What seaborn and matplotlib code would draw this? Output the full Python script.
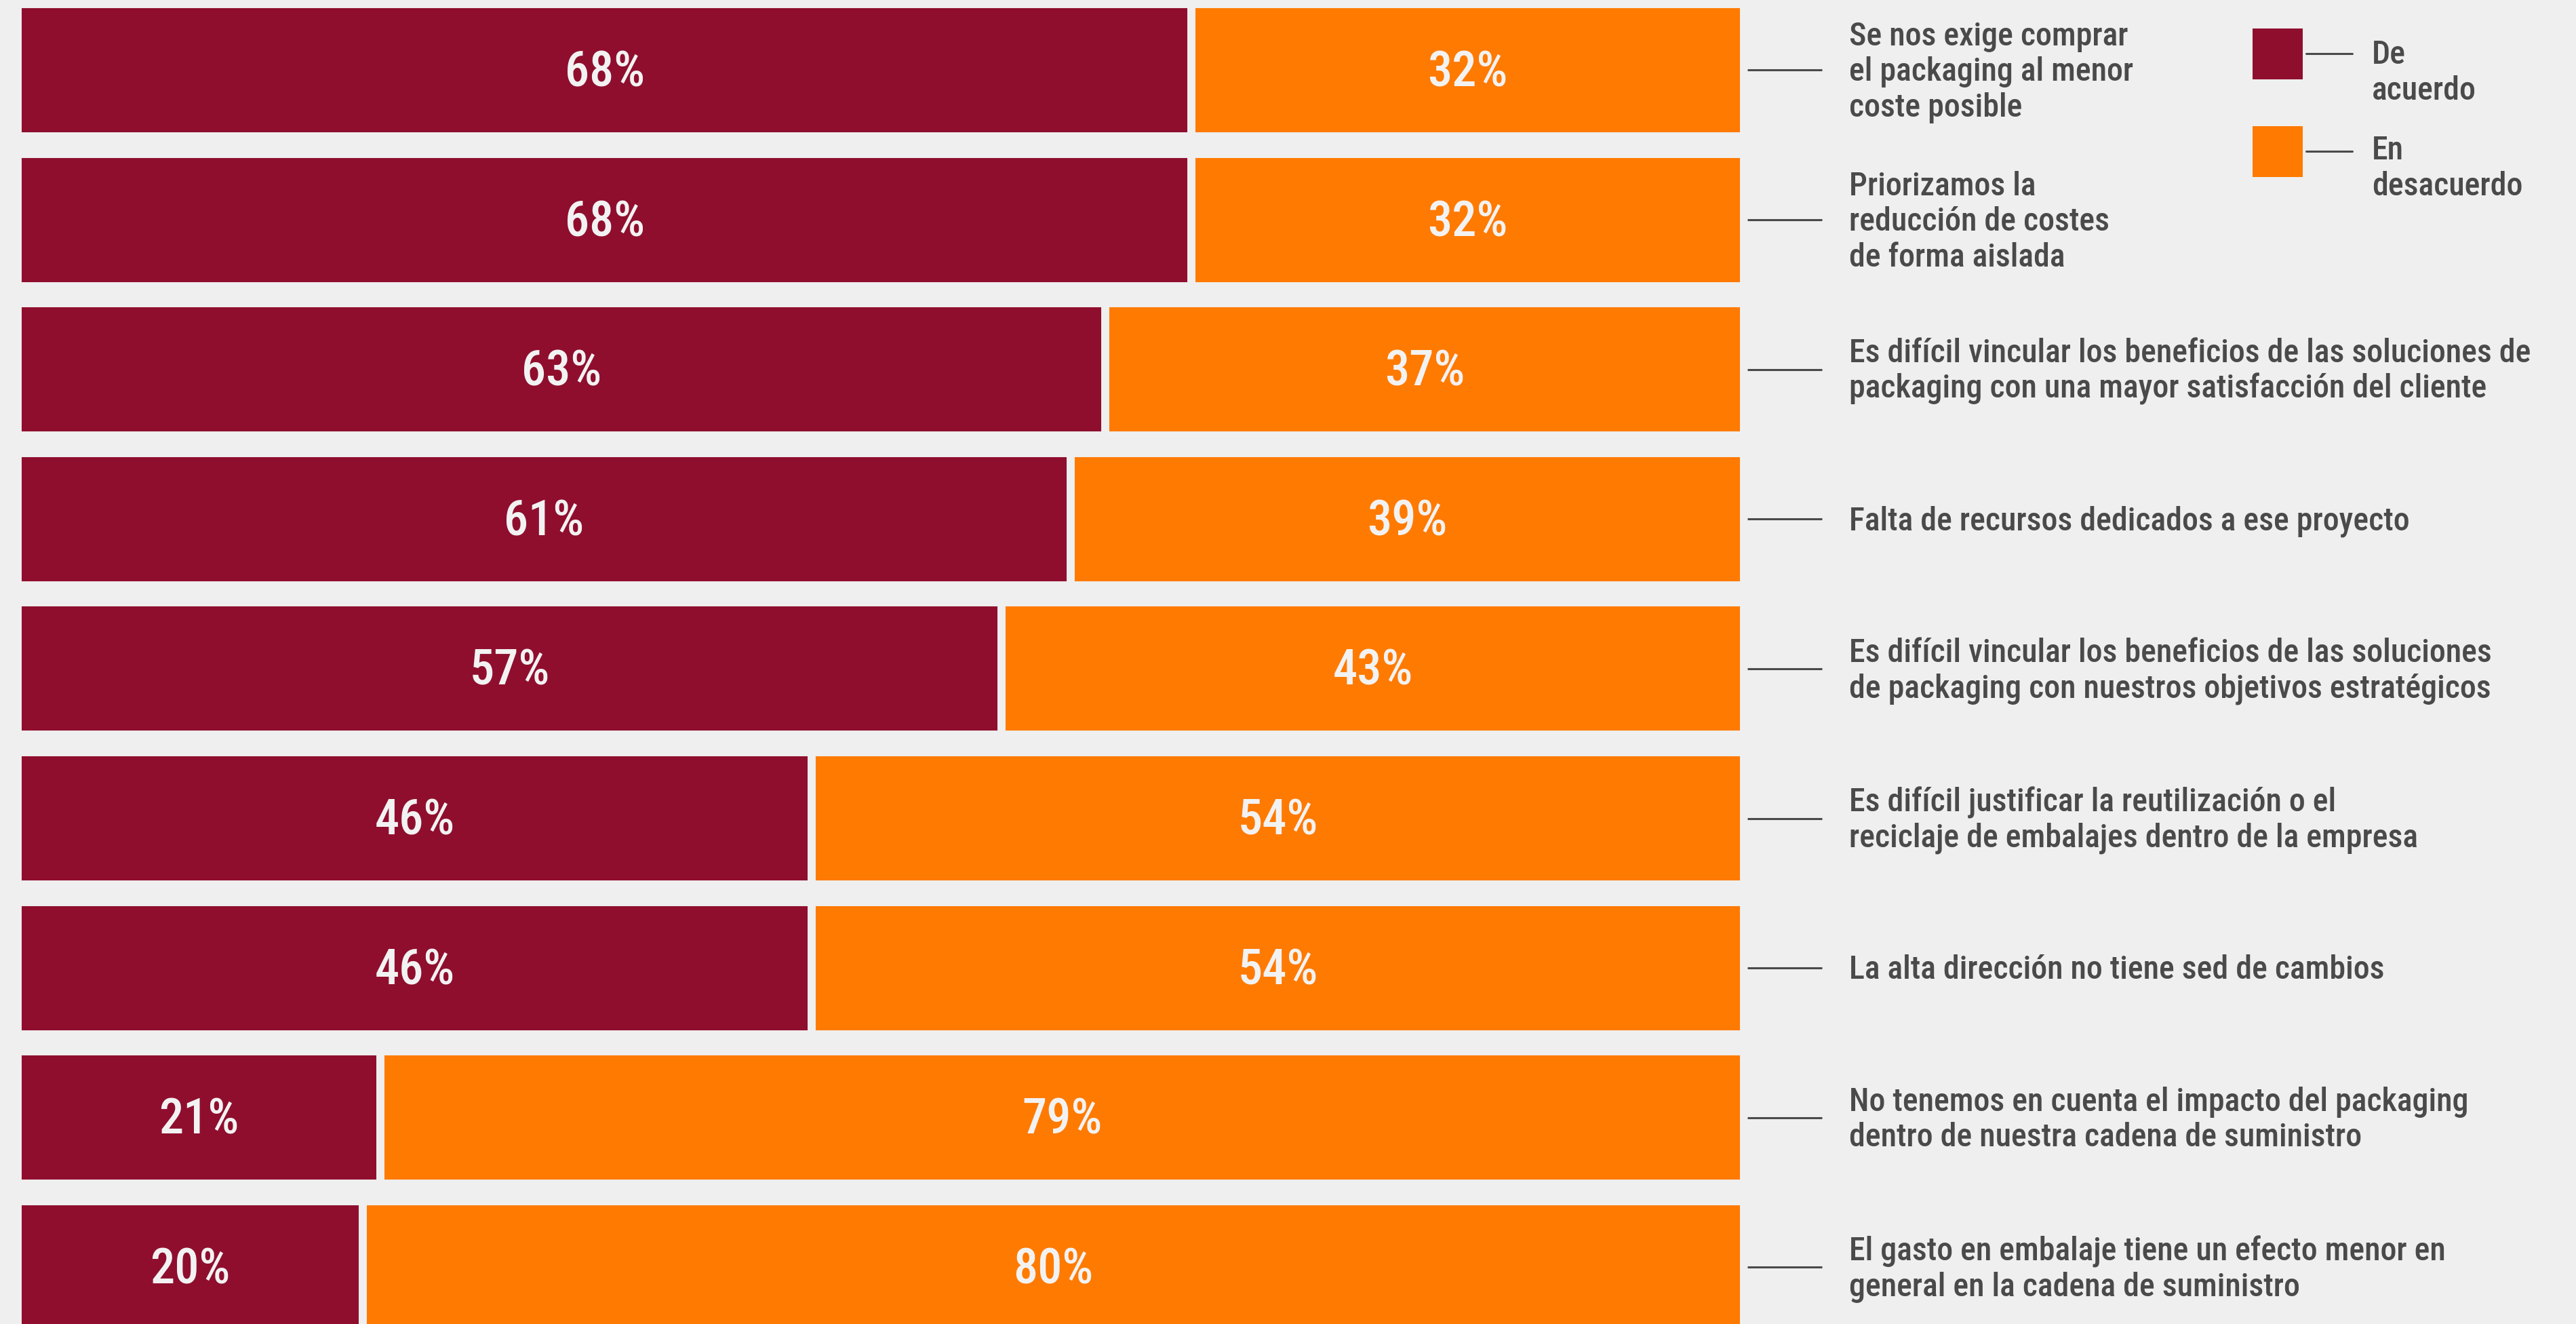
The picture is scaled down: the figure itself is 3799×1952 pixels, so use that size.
import matplotlib
matplotlib.use("Agg")
import matplotlib.pyplot as plt
from matplotlib import font_manager as fm
from matplotlib.patches import Rectangle
from matplotlib.lines import Line2D
import seaborn as sns
import pandas as pd

# --- data -----------------------------------------------------------------
statements = [
    "Se nos exige comprar\nel packaging al menor\ncoste posible",
    "Priorizamos la\nreducción de costes\nde forma aislada",
    "Es difícil vincular los beneficios de las soluciones de\npackaging con una mayor satisfacción del cliente",
    "Falta de recursos dedicados a ese proyecto",
    "Es difícil vincular los beneficios de las soluciones\nde packaging con nuestros objetivos estratégicos",
    "Es difícil justificar la reutilización o el\nreciclaje de embalajes dentro de la empresa",
    "La alta dirección no tiene sed de cambios",
    "No tenemos en cuenta el impacto del packaging\ndentro de nuestra cadena de suministro",
    "El gasto en embalaje tiene un efecto menor en\ngeneral en la cadena de suministro",
]
agree = [68, 68, 63, 61, 57, 46, 46, 21, 20]
disagree = [32, 32, 37, 39, 43, 54, 54, 79, 80]
legend_labels = [["De", "acuerdo"], ["En", "desacuerdo"]]

# --- style ----------------------------------------------------------------
BG = "#efefef"
RED = "#8f0e2e"
ORANGE = "#ff7a00"
TEXT = "#4a4a4a"
LABEL_ON_BAR = "#f2f2f2"

sns.set_theme(style="white")


def _weight_num(w):
    named = {"normal": 400, "regular": 400, "medium": 500, "book": 400}
    return w if isinstance(w, int) else named.get(str(w).lower(), 400)


def pick_font(weights):
    """Prefer a narrow/condensed sans face in one of the given weights."""
    fonts = fm.fontManager.ttflist

    def is_narrow(f):
        return (f.stretch in ("condensed", "semi-condensed", "extra-condensed")
                or "Narrow" in f.name or "Condensed" in f.name
                or "Condensed" in f.fname or "Narrow" in f.fname)

    prefs = ["Roboto", "Liberation Sans", "Open Sans", "Noto Sans",
             "DejaVu Sans", "Lato", "Inter"]
    for target in weights:
        for fam in prefs:
            for f in fonts:
                if (f.name.startswith(fam) and is_narrow(f)
                        and f.style == "normal"
                        and _weight_num(f.weight) == target
                        and "Mono" not in f.name and "Serif" not in f.name):
                    return fm.FontProperties(fname=f.fname)
    for fam in ["Roboto", "Lato", "Liberation Sans", "DejaVu Sans"]:
        if any(f.name == fam for f in fonts):
            return fm.FontProperties(family=fam)
    return fm.FontProperties(family="DejaVu Sans")


FONT = pick_font((500, 400))        # statements, legend and percentages

W, H = 3799, 1952
ROW_PX = 220.6          # pixel pitch between bars
LINE_PX = 52.5          # pixel pitch between wrapped text lines
fig = plt.figure(figsize=(W / 100, H / 100), dpi=100, facecolor=BG)
renderer = fig.canvas.get_renderer()


def text_width(sample, size, prop):
    t = fig.text(0, 0, sample, fontproperties=prop, fontsize=size)
    w = t.get_window_extent(renderer).width
    t.remove()
    return w


# font size chosen so that the long statement lines take their usual width
_samples = [("Falta de recursos dedicados a ese proyecto", 871),
            ("Es difícil vincular los beneficios de las soluciones de", 991)]
_ratio = sum(tw / text_width(s, 30, FONT) for s, tw in _samples) / len(_samples)
LABEL_SIZE = max(min(30 * _ratio, 34.5), 28)
VALUE_SIZE = max(min(45 * 140 / text_width("68%", 45, FONT), 52), 40)

ax = fig.add_axes([0, 0, 1, 1])
ax.set_facecolor(BG)

df = pd.DataFrame({"statement": statements,
                   "agree": agree,
                   "disagree": disagree})
df["total"] = df["agree"] + df["disagree"]

gap_pt = 8.6  # background-coloured outline that separates the segments
sns.barplot(data=df, x="total", y="statement", orient="h", color=ORANGE,
            saturation=1, width=0.884, edgecolor=BG, linewidth=gap_pt, ax=ax)
sns.barplot(data=df, x="agree", y="statement", orient="h", color=RED,
            saturation=1, width=0.884, edgecolor=BG, linewidth=gap_pt, ax=ax)

ax.set_xlim(-1.021, 148.19)
ax.set_ylim(8.379, -0.469)
ax.set_axis_off()

# values inside the segments (caps centred on the bar)
value_base = 24 / ROW_PX
for i, (a, d) in enumerate(zip(agree, disagree)):
    ax.text(a / 2, i + value_base, f"{a}%", ha="center", va="baseline",
            fontproperties=FONT, fontsize=VALUE_SIZE, color=LABEL_ON_BAR)
    ax.text(a + d / 2, i + value_base, f"{d}%", ha="center", va="baseline",
            fontproperties=FONT, fontsize=VALUE_SIZE, color=LABEL_ON_BAR)

# leader lines and statement text, one baseline per wrapped line
for i, s in enumerate(statements):
    ax.plot([100.2, 104.5], [i, i], color=TEXT, lw=2.2, solid_capstyle="butt")
    lines = s.split("\n")
    first = 16 - (len(lines) - 1) * LINE_PX / 2
    for k, line in enumerate(lines):
        ax.text(106.1, i + (first + k * LINE_PX) / ROW_PX, line,
                ha="left", va="baseline", fontproperties=FONT,
                fontsize=LABEL_SIZE, color=TEXT)


# legend
def fx(px):
    return px / W


def fy(py):
    return 1 - py / H


for (top, bot, line_y, base1, base2), col, lab in zip(
        [(42, 117, 79, 94, 147), (186, 261, 223, 235, 288)],
        [RED, ORANGE], legend_labels):
    fig.patches.append(Rectangle((fx(3322), fy(bot)), fx(3396) - fx(3322),
                                 fy(top) - fy(bot), transform=fig.transFigure,
                                 facecolor=col, edgecolor="none"))
    fig.lines.append(Line2D([fx(3401), fx(3469)], [fy(line_y), fy(line_y)],
                            transform=fig.transFigure, color=TEXT, lw=2.2))
    fig.text(fx(3498), fy(base1), lab[0], ha="left", va="baseline",
             fontproperties=FONT, fontsize=LABEL_SIZE, color=TEXT)
    fig.text(fx(3498), fy(base2), lab[1], ha="left", va="baseline",
             fontproperties=FONT, fontsize=LABEL_SIZE, color=TEXT)

fig.savefig("out.png", dpi=100, facecolor=BG)
